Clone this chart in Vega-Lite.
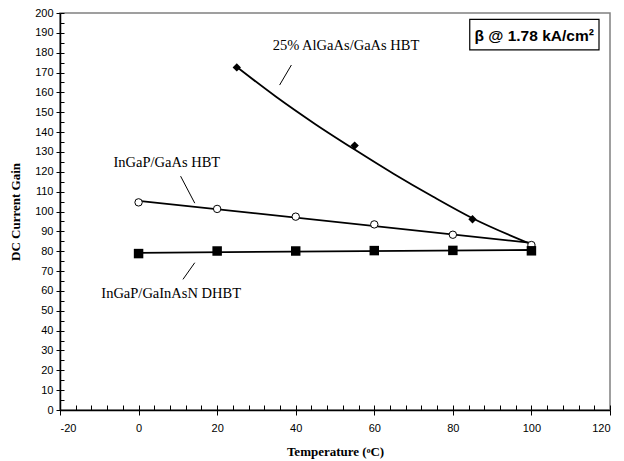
{
  "$schema": "https://vega.github.io/schema/vega-lite/v6.json",
  "width": 550,
  "height": 397,
  "autosize": {"type": "none"},
  "padding": {"left": 60, "top": 13, "right": 14, "bottom": 51},
  "background": "white",
  "config": {
    "view": {"stroke": "#808080", "strokeWidth": 1.5},
    "axis": {"grid": false, "domainColor": "black", "tickColor": "black", "labelColor": "black", "titleColor": "black", "labelFont": "Liberation Sans", "labelFontSize": 11, "titleFont": "Liberation Serif", "titleFontSize": 13, "titleFontWeight": "bold"}
  },
  "resolve": {"axis": {"x": "independent", "y": "independent"}},
  "datasets": {
    "points": [
      {"series": "AlGaAs", "T": 25, "gain": 172.6},
      {"series": "AlGaAs", "T": 55, "gain": 133.2},
      {"series": "AlGaAs", "T": 85, "gain": 96.1},
      {"series": "InGaP", "T": 0, "gain": 104.6},
      {"series": "InGaP", "T": 20, "gain": 101.3},
      {"series": "InGaP", "T": 40, "gain": 97.4},
      {"series": "InGaP", "T": 60, "gain": 93.5},
      {"series": "InGaP", "T": 80, "gain": 88.3},
      {"series": "InGaP", "T": 100, "gain": 83.1},
      {"series": "GaInAsN", "T": 0, "gain": 78.8},
      {"series": "GaInAsN", "T": 20, "gain": 80.1},
      {"series": "GaInAsN", "T": 40, "gain": 80.1},
      {"series": "GaInAsN", "T": 60, "gain": 80.3},
      {"series": "GaInAsN", "T": 80, "gain": 80.4},
      {"series": "GaInAsN", "T": 100, "gain": 80.2}
    ],
    "fits": [
      {"series": "AlGaAs", "T": 25, "gain": 172.8},
      {"series": "AlGaAs", "T": 35, "gain": 157.8},
      {"series": "AlGaAs", "T": 45, "gain": 144.0},
      {"series": "AlGaAs", "T": 55, "gain": 131.2},
      {"series": "AlGaAs", "T": 65, "gain": 118.9},
      {"series": "AlGaAs", "T": 75, "gain": 107.4},
      {"series": "AlGaAs", "T": 85, "gain": 96.6},
      {"series": "AlGaAs", "T": 100, "gain": 83.5},
      {"series": "InGaP", "T": 0, "gain": 105.4},
      {"series": "InGaP", "T": 100, "gain": 84.2},
      {"series": "GaInAsN", "T": 0, "gain": 79.2},
      {"series": "GaInAsN", "T": 100, "gain": 80.6}
    ],
    "labels": [
      {"text": "25% AlGaAs/GaAs HBT", "T": 52.8, "gain": 183.4},
      {"text": "InGaP/GaAs HBT", "T": 7.2, "gain": 124.4},
      {"text": "InGaP/GaInAsN DHBT", "T": 8.3, "gain": 58.4}
    ],
    "leaders": [
      {"T": 38.9, "gain": 173.8, "T2": 35.9, "gain2": 163.7},
      {"T": 10.7, "gain": 117.8, "T2": 14.3, "gain2": 104.2},
      {"T": 14.3, "gain": 74.2, "T2": 11.3, "gain2": 65.8}
    ],
    "box": [
      {"T": 84.3, "T2": 117.2, "gain": 196.8, "gain2": 181.4, "text": "β @ 1.78 kA/cm²", "Tc": 100.7, "gc": 188.6}
    ]
  },
  "layer": [
    {
      "data": {"name": "fits"},
      "mark": {"type": "line", "color": "black", "strokeWidth": 1.8, "interpolate": "monotone"},
      "encoding": {
        "x": {"field": "T", "type": "quantitative", "scale": {"domain": [-20, 120], "nice": false, "zero": false},
          "axis": {"orient": "bottom", "values": [-20, 0, 20, 40, 60, 80, 100, 120], "labelExpr": "'' + datum.value", "tickSize": 5, "tickWidth": 1, "domainWidth": 1.5, "labelPadding": 7, "title": "Temperature (ᵒC)", "titlePadding": 12}},
        "y": {"field": "gain", "type": "quantitative", "scale": {"domain": [0, 200], "nice": false},
          "axis": {"orient": "left", "values": [0,10,20,30,40,50,60,70,80,90,100,110,120,130,140,150,160,170,180,190,200], "tickSize": 4, "tickWidth": 1, "domainWidth": 1.5, "labelPadding": 3, "title": "DC Current Gain", "titlePadding": 12}},
        "detail": {"field": "series"}
      }
    },
    {
      "data": {"name": "fits"},
      "mark": {"type": "point", "opacity": 0},
      "encoding": {
        "x": {"field": "T", "type": "quantitative", "axis": {"orient": "bottom", "values": [-16,-12,-8,-4,4,8,12,16,24,28,32,36,44,48,52,56,64,68,72,76,84,88,92,96,104,108,112,116,-20,0,20,40,60,80,100,120], "tickSize": -5, "tickWidth": 1, "labels": false, "domain": false, "title": null}},
        "y": {"field": "gain", "type": "quantitative", "axis": {"orient": "left", "values": [5,15,25,35,45,55,65,75,85,95,105,115,125,135,145,155,165,175,185,195,0,10,20,30,40,50,60,70,80,90,100,110,120,130,140,150,160,170,180,190,200], "tickSize": -4, "tickWidth": 1, "labels": false, "domain": false, "title": null}}
      }
    },
    {
      "data": {"name": "points"},
      "transform": [{"filter": "datum.series === 'AlGaAs'"}],
      "mark": {"type": "point", "shape": "diamond", "filled": true, "color": "black", "size": 70, "opacity": 1},
      "encoding": {"x": {"field": "T", "type": "quantitative", "axis": null}, "y": {"field": "gain", "type": "quantitative", "axis": null}}
    },
    {
      "data": {"name": "points"},
      "transform": [{"filter": "datum.series === 'InGaP'"}],
      "mark": {"type": "point", "shape": "circle", "filled": true, "fill": "white", "stroke": "black", "strokeWidth": 1, "size": 55, "opacity": 1},
      "encoding": {"x": {"field": "T", "type": "quantitative", "axis": null}, "y": {"field": "gain", "type": "quantitative", "axis": null}}
    },
    {
      "data": {"name": "points"},
      "transform": [{"filter": "datum.series === 'GaInAsN'"}],
      "mark": {"type": "point", "shape": "square", "filled": true, "color": "black", "size": 90, "opacity": 1},
      "encoding": {"x": {"field": "T", "type": "quantitative", "axis": null}, "y": {"field": "gain", "type": "quantitative", "axis": null}}
    },
    {
      "data": {"name": "leaders"},
      "mark": {"type": "rule", "color": "black", "strokeWidth": 1},
      "encoding": {"x": {"field": "T", "type": "quantitative", "axis": null}, "y": {"field": "gain", "type": "quantitative", "axis": null}, "x2": {"field": "T2"}, "y2": {"field": "gain2"}}
    },
    {
      "data": {"name": "labels"},
      "mark": {"type": "text", "font": "Liberation Serif", "fontSize": 14.5, "color": "black", "align": "center", "baseline": "middle"},
      "encoding": {"x": {"field": "T", "type": "quantitative", "axis": null}, "y": {"field": "gain", "type": "quantitative", "axis": null}, "text": {"field": "text"}}
    },
    {
      "data": {"name": "box"},
      "mark": {"type": "rect", "fill": "white", "stroke": "black", "strokeWidth": 1.2},
      "encoding": {"x": {"field": "T", "type": "quantitative", "axis": null}, "x2": {"field": "T2"}, "y": {"field": "gain", "type": "quantitative", "axis": null}, "y2": {"field": "gain2"}}
    },
    {
      "data": {"name": "box"},
      "mark": {"type": "text", "font": "Liberation Sans", "fontSize": 15.5, "fontWeight": "bold", "color": "black", "align": "center", "baseline": "middle"},
      "encoding": {"x": {"field": "Tc", "type": "quantitative", "axis": null}, "y": {"field": "gc", "type": "quantitative", "axis": null}, "text": {"field": "text"}}
    }
  ]
}
